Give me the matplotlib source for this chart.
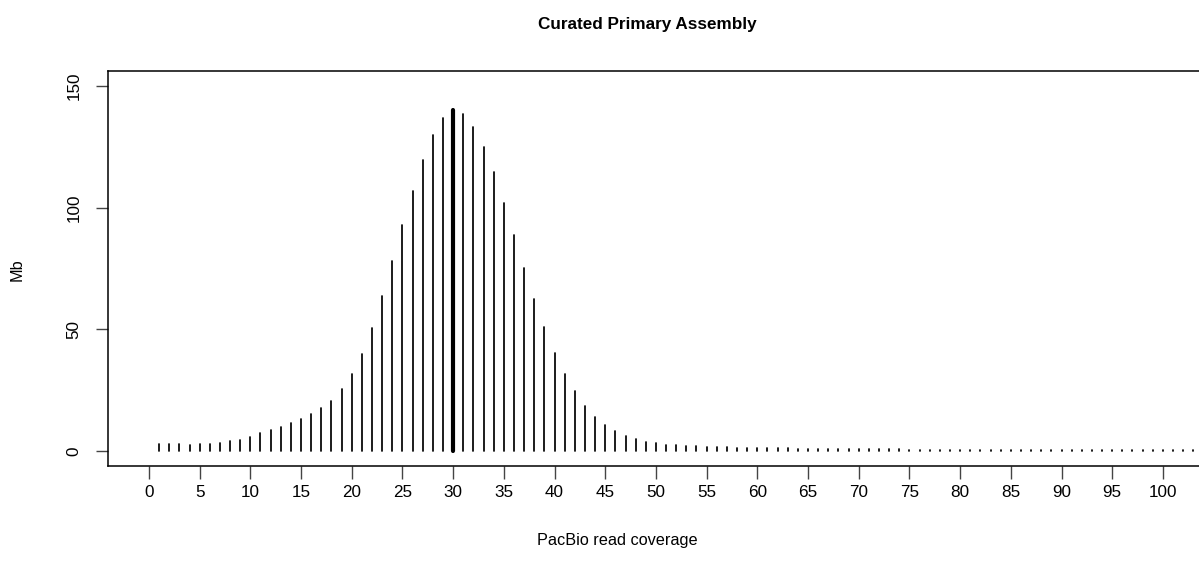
import numpy as np
import matplotlib
matplotlib.use('Agg')
import matplotlib.pyplot as plt

plt.rcParams['font.family'] = ['Liberation Sans', 'DejaVu Sans']

# coverage depth (x) and Mb of assembly at that depth (y)
coverage = np.arange(1, 105)
mb = [3.1, 3.1, 3.0, 2.8, 2.9, 3.1, 3.5, 4.1, 4.8, 5.9,
      7.4, 8.7, 10.2, 11.6, 13.2, 15.2, 17.6, 20.8, 25.4, 31.8,
      40.0, 50.6, 63.7, 78.1, 92.8, 106.6, 119.7, 129.8, 136.8, 139.9,
      138.4, 133.2, 124.9, 114.4, 102.0, 88.6, 75.2, 62.5, 51.1, 40.5,
      31.9, 24.7, 18.7, 14.2, 10.8, 8.3, 6.3, 5.0, 4.0, 3.4,
      2.8, 2.5, 2.2, 2.0, 1.8, 1.7, 1.6, 1.5, 1.4, 1.35,
      1.3, 1.25, 1.2, 1.15, 1.1, 1.05, 1.0, 0.97, 0.94, 0.9,
      0.87, 0.84, 0.8, 0.78, 0.75, 0.72, 0.7, 0.68, 0.66, 0.64,
      0.62, 0.6, 0.58, 0.56, 0.55, 0.54, 0.52, 0.5, 0.49, 0.48,
      0.47, 0.46, 0.45, 0.44, 0.43, 0.42, 0.41, 0.4, 0.4, 0.39,
      0.38, 0.37, 0.36, 0.35]
xticks = np.arange(0, 101, 5)
yticks = [0, 50, 100, 150]

mb = np.array(mb)
peak = np.argmax(mb)
lw = np.full(len(mb), 1.25)
lw[peak] = 3.0

fig = plt.figure(figsize=(11.99, 5.69), dpi=100)
# axes run off the right edge, like the cropped original
ax = fig.add_axes([108/1199, 103/569, 1106/1199, 395/569])

ax.vlines(coverage, 0, mb, colors='black', linewidths=lw, capstyle='round')

ax.set_xlim(-4.04, 105.04)
ax.set_ylim(-6, 156)
ax.set_xticks(xticks)
ax.set_yticks(yticks)
ax.tick_params(axis='both', length=9, width=1, labelsize=12.3, color='#444444')
ax.tick_params(axis='x', pad=5)
ax.tick_params(axis='y', pad=10, labelrotation=90)
for lab in ax.get_yticklabels():
    lab.set_va('center')
for s in ax.spines.values():
    s.set_linewidth(1.1)

fig.text(647/1199, 1 - 24/569, 'Curated Primary Assembly', ha='center', va='center',
         fontsize=12.3, fontweight='bold')
fig.text(617/1199, 1 - 541/569, 'PacBio read coverage', ha='center', va='center',
         fontsize=11.7)
fig.text(17/1199, 1 - 270/569, 'Mb', ha='center', va='center', rotation=90,
         fontsize=11.7)

plt.savefig('out.png', dpi=100)
